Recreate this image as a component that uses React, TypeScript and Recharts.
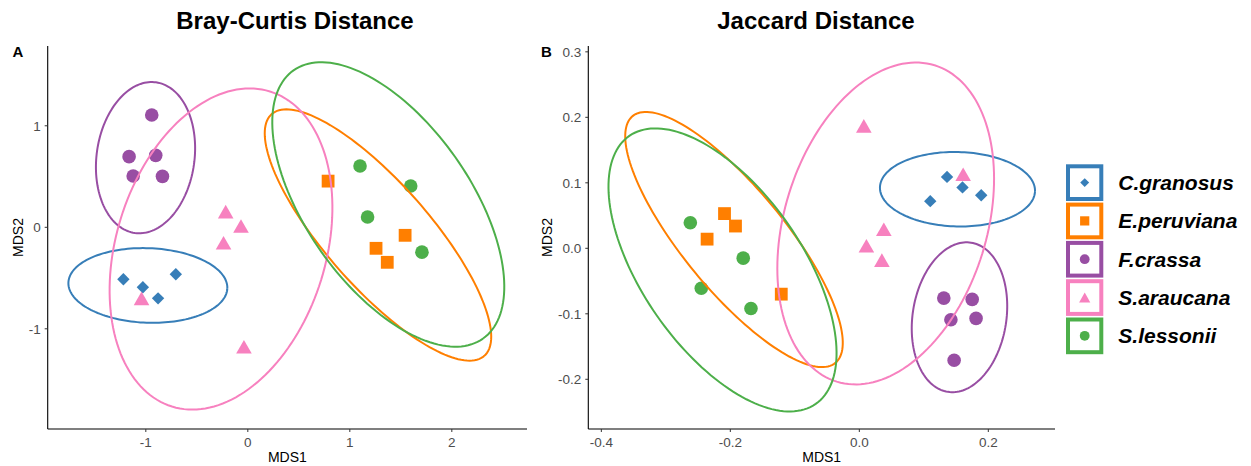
import React from 'react';
import { ScatterChart, Scatter, XAxis, YAxis } from 'recharts';

const FONT = '"Liberation Sans", Arial, Helvetica, sans-serif';

// species, colours and marker shapes
const species = ['C.granosus', 'E.peruviana', 'F.crassa', 'S.araucana', 'S.lessonii'];
const colors = ['#377EB8', '#FF7F00', '#984EA3', '#F781BF', '#4DAF4A'];
const shapes = ['diamond', 'square', 'circle', 'triangle', 'circle'];

// Bray-Curtis NMDS scores [MDS1, MDS2]
const bcGranosus = [[-1.220, -0.512], [-1.029, -0.591], [-0.880, -0.700], [-0.706, -0.463]];
const bcPeruviana = [[0.787, 0.455], [1.257, -0.207], [1.367, -0.345], [1.542, -0.079]];
const bcCrassa = [[-0.942, 1.106], [-1.164, 0.696], [-0.903, 0.709], [-1.124, 0.505], [-0.837, 0.502]];
const bcAraucana = [[-0.217, 0.154], [-0.067, 0.013], [-0.238, -0.152], [-1.042, -0.700], [-0.038, -1.177]];
const bcLessonii = [[1.100, 0.604], [1.597, 0.407], [1.174, 0.101], [1.707, -0.245]];

// Jaccard NMDS scores [MDS1, MDS2]
const jcGranosus = [[0.136, 0.109], [0.160, 0.093], [0.110, 0.072], [0.189, 0.081]];
const jcPeruviana = [[-0.209, 0.053], [-0.192, 0.034], [-0.236, 0.014], [-0.121, -0.070]];
const jcCrassa = [[0.131, -0.076], [0.175, -0.078], [0.142, -0.109], [0.181, -0.107], [0.147, -0.171]];
const jcAraucana = [[0.007, 0.187], [0.161, 0.113], [0.038, 0.029], [0.011, 0.004], [0.035, -0.018]];
const jcLessonii = [[-0.262, 0.039], [-0.180, -0.015], [-0.245, -0.061], [-0.168, -0.092]];

// 95% ellipses: centre [x, y], semi-axis u [x, y], semi-axis v [x, y] (data units)
const bcEllipseCentres = [[-0.980, -0.573], [1.276, -0.076], [-1.003, 0.686], [-0.263, -0.214], [1.377, 0.225]];
const bcEllipseU = [[0.779, -0.028], [1.042, -1.191], [0.104, 0.742], [0.480, 1.552], [0.929, -1.321]];
const bcEllipseV = [[-0.013, -0.367], [0.383, 0.338], [0.475, -0.067], [0.981, -0.306], [0.656, 0.467]];

const jcEllipseCentres = [[0.1522, 0.0902], [-0.1943, 0.0134], [0.1553, -0.1053], [0.0409, 0.0379], [-0.2121, -0.0330]];
const jcEllipseU = [[0.1202, -0.0029], [0.1572, -0.1884], [0.0180, 0.1139], [0.0759, 0.2415], [0.1445, -0.2046]];
const jcEllipseV = [[-0.0014, -0.0568], [0.0611, 0.0495], [0.0718, -0.0110], [0.1499, -0.0456], [0.1019, 0.0696]];

// axes
const bcXDomain = [-1.962, 2.737];
const bcYDomain = [-1.987, 1.786];
const bcXTicks = [-1, 0, 1, 2];
const bcYTicks = [-1, 0, 1];
const jcXDomain = [-0.4202, 0.3034];
const jcYDomain = [-0.2759, 0.3089];
const jcXTicks = [-0.4, -0.2, 0, 0.2];
const jcYTicks = [-0.2, -0.1, 0, 0.1, 0.2, 0.3];

const bcPoints = [bcGranosus, bcPeruviana, bcCrassa, bcAraucana, bcLessonii];
const jcPoints = [jcGranosus, jcPeruviana, jcCrassa, jcAraucana, jcLessonii];

const toRows = (pts: number[][]) => pts.map(([x, y]) => ({ x, y }));

const ellipseRows = (c: number[], u: number[], v: number[]) => {
  const rows: { x: number; y: number }[] = [];
  const n = 160;
  for (let k = 0; k <= n; k++) {
    const t = (2 * Math.PI * k) / n;
    rows.push({
      x: c[0] + u[0] * Math.cos(t) + v[0] * Math.sin(t),
      y: c[1] + u[1] * Math.cos(t) + v[1] * Math.sin(t),
    });
  }
  return rows;
};

function Marker({ shape, cx, cy, color, scale }: any) {
  if (cx == null || cy == null) return <g />;
  const s = scale;
  if (shape === 'circle') return <circle cx={cx} cy={cy} r={6.8 * s} fill={color} />;
  if (shape === 'square') {
    const h = 6.4 * s;
    return <rect x={cx - h} y={cy - h} width={2 * h} height={2 * h} fill={color} />;
  }
  if (shape === 'diamond') {
    const d = 6.2 * s;
    return <polygon points={`${cx},${cy - d} ${cx + d},${cy} ${cx},${cy + d} ${cx - d},${cy}`} fill={color} />;
  }
  const w = 7.8 * s;
  const h = 6.8 * s;
  return <polygon points={`${cx},${cy - h} ${cx + w},${cy + h} ${cx - w},${cy + h}`} fill={color} />;
}

const tickStyle = { fill: '#4d4d4d', fontSize: 13.5, fontFamily: FONT };

function Panel({ points, centres, us, vs, xDomain, yDomain, xTicks, yTicks, yAxisWidth, rightMargin, width, fmt }: any) {
  return (
    <ScatterChart width={width} height={466} margin={{ top: 46, right: rightMargin, bottom: 0, left: 0 }}>
      <XAxis
        type="number"
        dataKey="x"
        domain={xDomain}
        ticks={xTicks}
        allowDataOverflow
        height={37}
        tickSize={3}
        tickMargin={5}
        tick={tickStyle}
        tickFormatter={fmt}
        axisLine={{ stroke: '#000', strokeWidth: 1.1 }}
        tickLine={{ stroke: '#333' }}
      />
      <YAxis
        type="number"
        dataKey="y"
        domain={yDomain}
        ticks={yTicks}
        allowDataOverflow
        width={yAxisWidth}
        tickSize={3}
        tickMargin={4}
        tick={tickStyle}
        tickFormatter={fmt}
        axisLine={{ stroke: '#000', strokeWidth: 1.1 }}
        tickLine={{ stroke: '#333' }}
      />
      {points.map((pts: number[][], i: number) => (
        <Scatter
          key={'p' + i}
          name={species[i]}
          data={toRows(pts)}
          isAnimationActive={false}
          shape={(p: any) => <Marker shape={shapes[i]} cx={p.cx} cy={p.cy} color={colors[i]} scale={1} />}
        />
      ))}
      {centres.map((c: number[], i: number) => (
        <Scatter
          key={'e' + i}
          data={ellipseRows(c, us[i], vs[i])}
          isAnimationActive={false}
          line={{ stroke: colors[i], strokeWidth: 2, fill: 'none' }}
          lineType="joint"
          shape={() => <g />}
        />
      ))}
    </ScatterChart>
  );
}

export default function App() {
  const legendTop = 164.3;
  const step = 38.3;
  return (
    <div style={{ position: 'absolute', left: 0, top: 0, width: 1251, height: 466, background: '#fff', fontFamily: FONT }}>
      <div style={{ position: 'absolute', left: 0, top: 0 }}>
        <Panel
          points={bcPoints}
          centres={bcEllipseCentres}
          us={bcEllipseU}
          vs={bcEllipseV}
          xDomain={bcXDomain}
          yDomain={bcYDomain}
          xTicks={bcXTicks}
          yTicks={bcYTicks}
          yAxisWidth={47.7}
          rightMargin={13}
          width={540}
          fmt={(v: number) => String(v)}
        />
      </div>
      <div style={{ position: 'absolute', left: 540, top: 0 }}>
        <Panel
          points={jcPoints}
          centres={jcEllipseCentres}
          us={jcEllipseU}
          vs={jcEllipseV}
          xDomain={jcXDomain}
          yDomain={jcYDomain}
          xTicks={jcXTicks}
          yTicks={jcYTicks}
          yAxisWidth={48.3}
          rightMargin={5}
          width={520}
          fmt={(v: number) => v.toFixed(1)}
        />
      </div>
      <svg width={1251} height={466} style={{ position: 'absolute', left: 0, top: 0, pointerEvents: 'none' }}>
        <text x={295} y={28.5} textAnchor="middle" fontSize={24} fontWeight="bold" fontFamily={FONT} fill="#000">Bray-Curtis Distance</text>
        <text x={816} y={28.5} textAnchor="middle" fontSize={24} fontWeight="bold" fontFamily={FONT} fill="#000">Jaccard Distance</text>
        <text x={12.5} y={57.3} fontSize={15} fontWeight="bold" fontFamily={FONT} fill="#000">A</text>
        <text x={541} y={57.3} fontSize={15} fontWeight="bold" fontFamily={FONT} fill="#000">B</text>
        <text x={287.4} y={461.7} textAnchor="middle" fontSize={14} fontFamily={FONT} fill="#000">MDS1</text>
        <text x={821.7} y={461.7} textAnchor="middle" fontSize={14} fontFamily={FONT} fill="#000">MDS1</text>
        <text x={22.9} y={237.5} textAnchor="middle" fontSize={14} fontFamily={FONT} fill="#000" transform="rotate(-90 22.9 237.5)">MDS2</text>
        <text x={551.7} y={237.5} textAnchor="middle" fontSize={14} fontFamily={FONT} fill="#000" transform="rotate(-90 551.7 237.5)">MDS2</text>
        {species.map((sp, i) => {
          const top = legendTop + i * step;
          const cy = top + 18.3;
          return (
            <g key={sp}>
              <rect x={1068} y={top + 2} width={33.3} height={32.7} fill="#fff" stroke={colors[i]} strokeWidth={4} />
              <Marker shape={shapes[i]} cx={1084.7} cy={cy} color={colors[i]} scale={0.72} />
              <text x={1118.3} y={cy + 7.5} fontSize={21} fontWeight="bold" fontStyle="italic" fontFamily={FONT} fill="#000">{sp}</text>
            </g>
          );
        })}
      </svg>
    </div>
  );
}
